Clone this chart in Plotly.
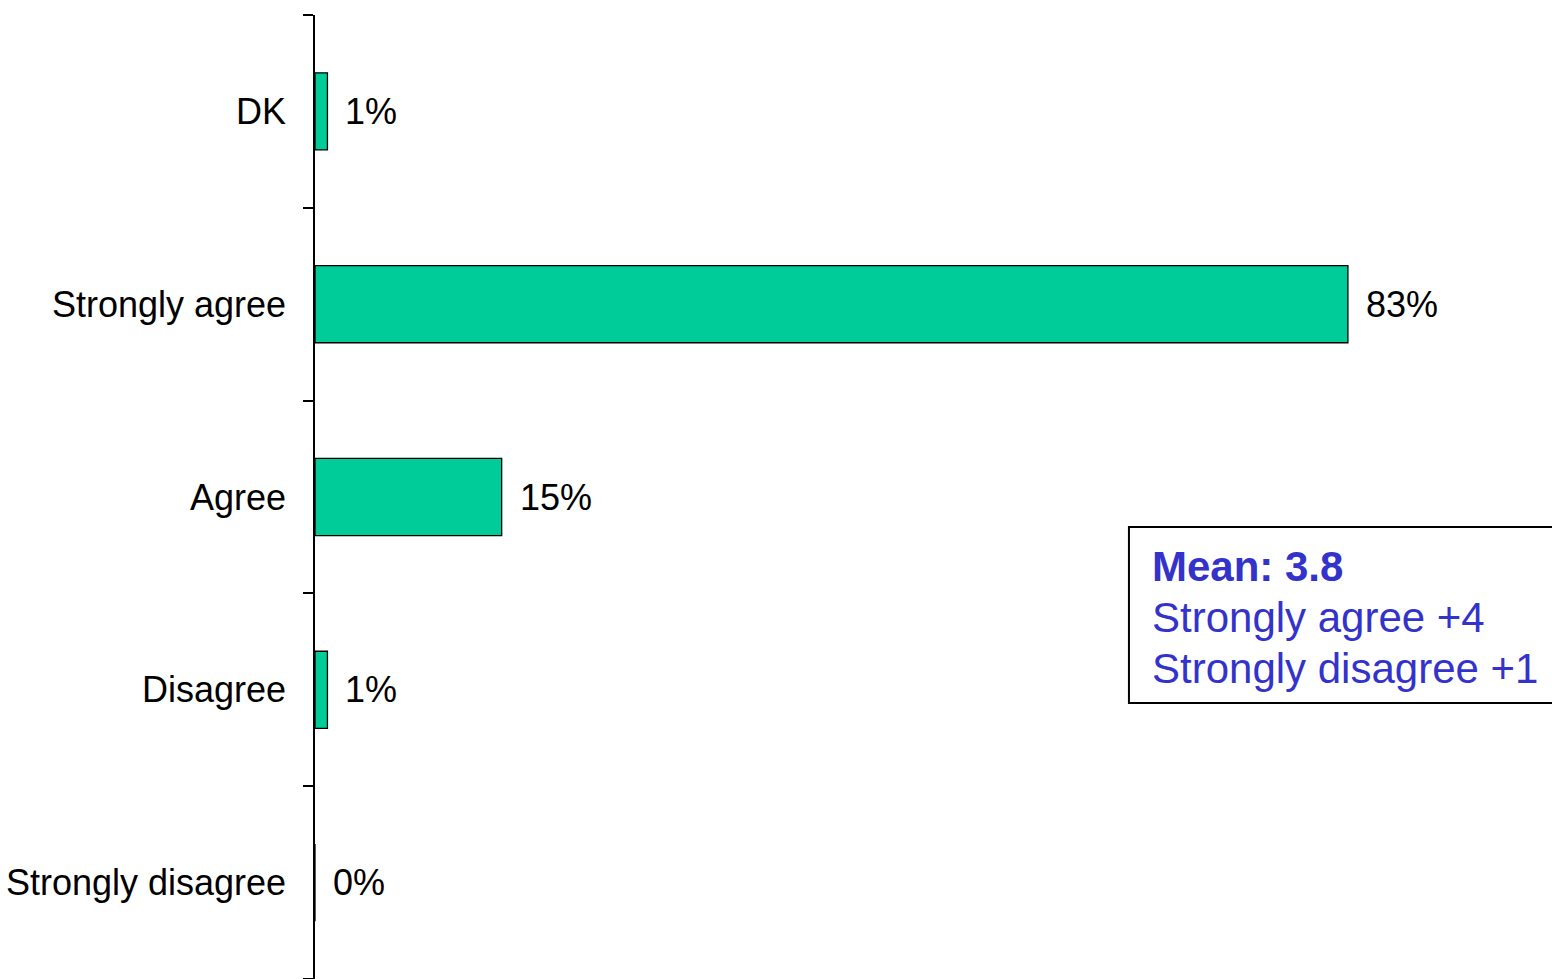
import plotly.graph_objects as go

# Survey responses, bottom to top
categories = ["Strongly disagree", "Disagree", "Agree", "Strongly agree", "DK"]
percentages = [0, 1, 15, 83, 1]
labels = ["0%", "1%", "15%", "83%", "1%"]

mean_score = 3.8
scale_lines = ["Strongly agree +4", "Strongly disagree +1"]

FONT = "Arial, Liberation Sans, sans-serif"
BAR_COLOR = "#00CC99"
NOTE_COLOR = "#3333CC"

fig = go.Figure()
fig.add_trace(go.Bar(
    y=categories,
    x=percentages,
    orientation="h",
    marker=dict(color=BAR_COLOR, line=dict(color="black", width=1.3)),
    width=0.4,
    hoverinfo="skip",
    showlegend=False,
))

# Value labels just to the right of each bar end
for cat, val, lab in zip(categories, percentages, labels):
    fig.add_annotation(
        x=val, y=cat, xref="x", yref="y",
        text=lab, showarrow=False,
        xanchor="left", yanchor="middle", xshift=16,
        font=dict(family=FONT, size=36, color="black"),
    )

# Mean summary box
fig.add_shape(
    type="rect", xref="paper", yref="paper",
    x0=0.658, x1=1.05, y0=0.2863, y1=0.4689,
    line=dict(color="black", width=2), fillcolor="white", layer="above",
)
note_lines = ["<b>Mean: {}</b>".format(mean_score)] + scale_lines
note_y = [0.4284, 0.3755, 0.3226]
for line_text, ly in zip(note_lines, note_y):
    fig.add_annotation(
        x=0.675, y=ly, xref="paper", yref="paper",
        text=line_text, showarrow=False, align="left",
        xanchor="left", yanchor="middle",
        font=dict(family=FONT, size=42, color=NOTE_COLOR),
    )

fig.update_layout(
    width=1552, height=979,
    margin=dict(l=315, r=0, t=15, b=0, pad=0),
    paper_bgcolor="white", plot_bgcolor="white",
    font=dict(family=FONT, color="black"),
    xaxis=dict(range=[0, 99.4], visible=False, fixedrange=True),
    yaxis=dict(
        categoryorder="array", categoryarray=categories,
        range=[-0.5, 4.5],
        showline=True, linecolor="black", linewidth=1.5,
        ticks="outside", ticklen=10, tickwidth=1.5, tickcolor="black",
        tickson="boundaries",
        showgrid=False, zeroline=False,
        tickfont=dict(family=FONT, size=36, color="black"),
        ticklabelstandoff=20,
        fixedrange=True,
    ),
)

fig.write_html("out.html")
